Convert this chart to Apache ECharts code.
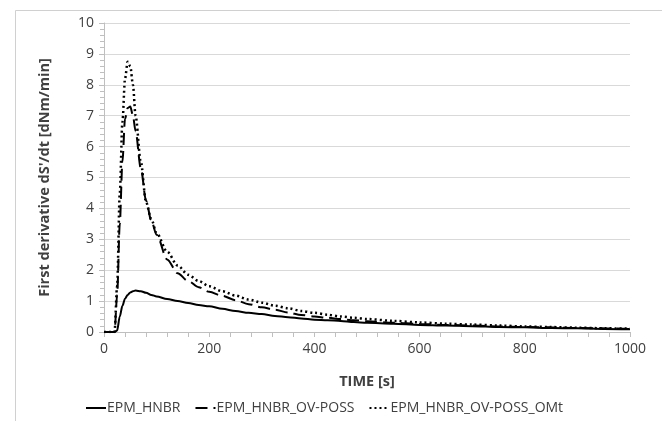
<!DOCTYPE html>
<html>
<head>
<meta charset="utf-8">
<script src="https://cdn.jsdelivr.net/npm/echarts@6/dist/echarts.min.js"></script>
<style>
  html, body { margin: 0; padding: 0; background: #fff; }
  #chart { width: 662px; height: 421px; }
</style>
</head>
<body>
<div id="chart"></div>
<script>
// time axis shared by the three curves (s)
const times = [0, 10, 20, 25, 30, 35, 40, 45, 50, 55, 60, 70, 80, 90, 100, 120, 140, 160, 180, 200,
  225, 250, 275, 300, 325, 350, 375, 400, 425, 450, 475, 500, 550, 600, 650, 700, 750, 800, 850, 900, 950, 1000];

// first derivative dS'/dt [dNm/min]
const hnbr = [0, 0, 0, 0.05, 0.5, 0.85, 1.08, 1.2, 1.28, 1.32, 1.34, 1.32, 1.27, 1.2, 1.15, 1.07, 1.0, 0.94, 0.87, 0.83,
  0.75, 0.68, 0.62, 0.58, 0.52, 0.48, 0.44, 0.4, 0.38, 0.36, 0.32, 0.3, 0.27, 0.23, 0.21, 0.19, 0.16, 0.15, 0.13, 0.12, 0.1, 0.09];
const hnbrPoss = [0, 0, 0, 1.2, 3.5, 5.5, 6.9, 7.25, 7.3, 7.0, 6.5, 5.3, 4.25, 3.6, 3.15, 2.35, 1.9, 1.65, 1.45, 1.3,
  1.17, 1.03, 0.9, 0.8, 0.72, 0.63, 0.55, 0.5, 0.46, 0.42, 0.38, 0.35, 0.3, 0.26, 0.23, 0.21, 0.18, 0.16, 0.15, 0.13, 0.12, 0.1];
const hnbrPossOmt = [0, 0, 0, 1.5, 4.5, 6.8, 8.2, 8.75, 8.6, 8.0, 7.0, 5.5, 4.2, 3.65, 3.2, 2.6, 2.15, 1.85, 1.65, 1.48,
  1.32, 1.18, 1.05, 0.95, 0.85, 0.77, 0.68, 0.62, 0.56, 0.5, 0.46, 0.42, 0.36, 0.31, 0.27, 0.24, 0.21, 0.18, 0.16, 0.14, 0.12, 0.11];

const seriesNames = ["EPM_HNBR", "EPM_HNBR_OV-POSS", "EPM_HNBR_OV-POSS_OMt"];

const pairs = (vals) => times.map((t, i) => [t, vals[i]]);

const font = "'Open Sans', 'Noto Sans', sans-serif";
const chart = echarts.init(document.getElementById("chart"), null, { renderer: "canvas" });

const option = {
  backgroundColor: "#ffffff",
  animation: false,
  graphic: [
    {
      type: "rect",
      left: 13,
      top: 8,
      shape: { width: 700, height: 500 },
      style: { fill: "none", stroke: "#d0d0d0", lineWidth: 1 },
      silent: true,
    },
  ],
  grid: {
    left: 104,
    right: 32,
    top: 23,
    bottom: 89,
  },
  legend: {
    left: 80,
    top: 396,
    itemWidth: 20,
    itemHeight: 10,
    itemGap: 14,
    itemStyle: { opacity: 0 },
    textStyle: { fontFamily: font, fontSize: 14, color: "#404040", padding: [0, 0, 0, -4] },
    data: seriesNames,
  },
  xAxis: {
    type: "value",
    min: 0,
    max: 1000,
    interval: 200,
    name: "TIME [s]",
    nameLocation: "middle",
    nameGap: 42,
    nameTextStyle: { fontFamily: font, fontSize: 14.5, fontWeight: "bold", color: "#404040" },
    axisLine: { show: true, lineStyle: { color: "#bfbfbf", width: 1 } },
    axisTick: { show: true, inside: false, length: 5, lineStyle: { color: "#bfbfbf" } },
    minorTick: { show: true, splitNumber: 5, length: 5, lineStyle: { color: "#bfbfbf" } },
    axisLabel: { fontFamily: font, fontSize: 14, color: "#404040", margin: 10, formatter: (v) => String(v) },
    splitLine: { show: false },
  },
  yAxis: {
    type: "value",
    min: 0,
    max: 10,
    interval: 1,
    name: "First derivative dS'/dt [dNm/min]",
    nameLocation: "middle",
    nameGap: 52,
    nameTextStyle: { fontFamily: font, fontSize: 14.5, fontWeight: "bold", color: "#404040" },
    axisLine: { show: true, lineStyle: { color: "#bfbfbf", width: 1 } },
    axisTick: { show: true, length: 5, lineStyle: { color: "#bfbfbf" } },
    minorTick: { show: true, splitNumber: 5, length: 4, lineStyle: { color: "#bfbfbf" } },
    axisLabel: { fontFamily: font, fontSize: 14, color: "#404040", margin: 10 },
    splitLine: { show: true, lineStyle: { color: "#d9d9d9", width: 1 } },
  },
  series: [
    {
      name: seriesNames[0],
      type: "line",
      data: pairs(hnbr),
      showSymbol: false,
      symbol: "none",
      smooth: 0.3,
      smoothMonotone: "x",
      color: "#000000",
      lineStyle: { color: "#000000", width: 2, type: "solid" },
      z: 3,
    },
    {
      name: seriesNames[1],
      type: "line",
      data: pairs(hnbrPoss),
      showSymbol: false,
      symbol: "none",
      smooth: 0.3,
      smoothMonotone: "x",
      color: "#000000",
      lineStyle: { color: "#000000", width: 2, type: [12, 6] },
      z: 2,
    },
    {
      name: seriesNames[2],
      type: "line",
      data: pairs(hnbrPossOmt),
      showSymbol: false,
      symbol: "none",
      smooth: 0.3,
      smoothMonotone: "x",
      color: "#000000",
      lineStyle: { color: "#000000", width: 2.5, type: [2, 3] },
      z: 1,
    },
  ],
};

chart.setOption(option);
</script>
</body>
</html>
